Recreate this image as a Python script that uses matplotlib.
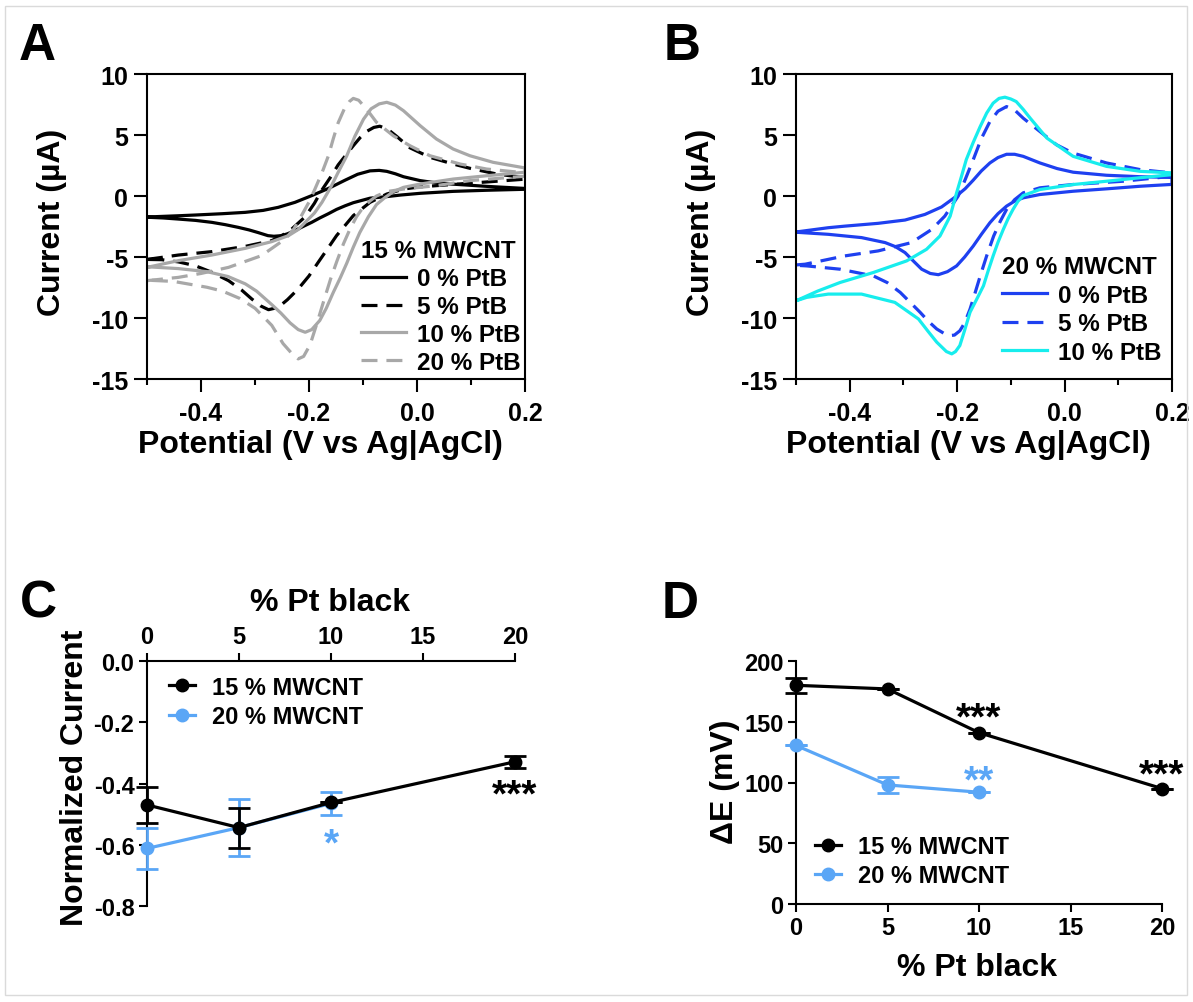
import matplotlib
matplotlib.use("Agg")
import matplotlib.pyplot as plt
from matplotlib.ticker import FormatStrFormatter

plt.rcParams['font.family'] = ['Liberation Sans', 'DejaVu Sans']
plt.rcParams['font.weight'] = 'bold'
plt.rcParams['axes.labelweight'] = 'bold'
plt.rcParams['axes.unicode_minus'] = False
plt.rcParams['axes.linewidth'] = 1.5

# ---- panel A: CVs, 15 % MWCNT (upper branch -0.5 -> 0.2, then back) ----
a0_E = [-0.500, -0.442, -0.411, -0.360, -0.318, -0.285, -0.257, -0.226, -0.195, -0.164,
        -0.133, -0.110, -0.087, -0.070, -0.056, -0.040, -0.025, 0.006, 0.035, 0.067,
        0.129, 0.200,
        0.200, 0.129, 0.067, 0.006, -0.030, -0.056, -0.087, -0.118, -0.133, -0.149,
        -0.164, -0.180, -0.195, -0.211, -0.226, -0.240, -0.251, -0.265, -0.276, -0.294,
        -0.311, -0.331, -0.355, -0.380, -0.410, -0.442, -0.470, -0.500]
a0_I = [-1.72, -1.62, -1.56, -1.45, -1.34, -1.18, -0.93, -0.52, 0.03, 0.62,
        1.30, 1.78, 2.06, 2.10, 2.02, 1.82, 1.58, 1.26, 1.08, 0.97,
        0.79, 0.62,
        0.55, 0.47, 0.38, 0.22, 0.08, -0.05, -0.18, -0.55, -0.80, -1.10,
        -1.45, -1.80, -2.16, -2.50, -2.84, -3.10, -3.25, -3.30, -3.25, -3.00,
        -2.78, -2.57, -2.35, -2.16, -2.00, -1.89, -1.80, -1.74]

a5_E = [-0.500, -0.442, -0.380, -0.318, -0.269, -0.238, -0.207, -0.190, -0.176, -0.160,
        -0.146, -0.130, -0.118, -0.105, -0.093, -0.080, -0.069, -0.055, -0.038, -0.013,
        0.024, 0.067, 0.098, 0.148, 0.200,
        0.200, 0.129, 0.067, 0.006, -0.025, -0.056, -0.087, -0.118, -0.149, -0.166,
        -0.183, -0.200, -0.220, -0.240, -0.257, -0.275, -0.290, -0.306, -0.325, -0.349,
        -0.380, -0.411, -0.442, -0.473, -0.500]
a5_I = [-5.20, -4.84, -4.56, -4.13, -3.66, -2.95, -1.70, -0.60, 0.50, 1.55,
        2.55, 3.45, 4.12, 4.80, 5.30, 5.62, 5.72, 5.50, 4.90, 3.95,
        3.17, 2.62, 2.27, 1.80, 1.50,
        1.38, 1.15, 0.95, 0.75, 0.57, 0.16, -0.52, -1.61, -3.25, -4.35,
        -5.44, -6.55, -7.62, -8.50, -9.13, -9.32, -9.00, -8.44, -7.70, -6.94,
        -6.25, -5.71, -5.40, -5.22, -5.20]

a10_E = [-0.500, -0.442, -0.380, -0.318, -0.269, -0.238, -0.220, -0.207, -0.190, -0.176,
         -0.160, -0.146, -0.130, -0.115, -0.099, -0.085, -0.070, -0.056, -0.040, -0.025,
         0.006, 0.036, 0.067, 0.098, 0.141, 0.200,
         0.200, 0.129, 0.067, 0.006, -0.025, -0.044, -0.060, -0.075, -0.090, -0.106,
         -0.118, -0.130, -0.142, -0.155, -0.168, -0.180, -0.195, -0.207, -0.220, -0.235,
         -0.252, -0.269, -0.297, -0.318, -0.350, -0.389, -0.442, -0.500]
a10_I = [-5.85, -5.30, -4.84, -4.29, -3.74, -3.25, -2.75, -2.16, -1.40, -0.52,
         0.70, 1.94, 3.30, 4.90, 6.30, 7.15, 7.55, 7.68, 7.45, 6.99,
         5.76, 4.67, 3.85, 3.30, 2.76, 2.30,
         1.95, 1.66, 1.39, 0.98, 0.71, 0.35, -0.15, -0.70, -1.70, -3.00,
         -4.20, -5.50, -6.70, -7.90, -9.20, -10.20, -10.95, -11.17, -10.95, -10.40,
         -9.60, -8.90, -7.80, -7.20, -6.60, -6.20, -5.95, -5.80]

a20_E = [-0.500, -0.442, -0.400, -0.349, -0.288, -0.244, -0.228, -0.214, -0.200, -0.189,
         -0.176, -0.164, -0.155, -0.146, -0.135, -0.125, -0.118, -0.108, -0.099, -0.087,
         -0.075, -0.044, -0.013, 0.024, 0.080, 0.129, 0.200,
         0.200, 0.098, 0.036, -0.025, -0.056, -0.075, -0.087, -0.100, -0.112, -0.124,
         -0.136, -0.148, -0.160, -0.172, -0.185, -0.198, -0.210, -0.220, -0.232, -0.248,
         -0.269, -0.300, -0.328, -0.360, -0.389, -0.451, -0.500]
a20_I = [-6.94, -6.67, -6.35, -5.85, -4.89, -3.52, -2.70, -1.61, -0.50, 0.57,
         1.90, 3.30, 4.70, 6.00, 7.10, 7.75, 8.00, 7.85, 7.40, 6.75,
         6.04, 4.94, 4.12, 3.30, 2.62, 2.21, 1.90,
         1.62, 1.26, 0.85, 0.57, 0.36, 0.00, -0.40, -0.95, -1.70, -2.70,
         -3.90, -5.30, -6.80, -8.50, -10.40, -12.20, -13.15, -13.35, -12.90, -12.10,
         -10.60, -9.20, -8.40, -7.80, -7.48, -7.00, -6.90]

# ---- panel B: CVs, 20 % MWCNT ----
b0_E = [-0.500, -0.440, -0.409, -0.347, -0.297, -0.260, -0.229, -0.204, -0.185, -0.170,
        -0.155, -0.139, -0.124, -0.108, -0.093, -0.077, -0.046, -0.014, 0.016, 0.078,
        0.141, 0.200,
        0.200, 0.141, 0.079, 0.016, -0.046, -0.077, -0.093, -0.108, -0.124, -0.139,
        -0.155, -0.170, -0.186, -0.201, -0.218, -0.235, -0.250, -0.266, -0.281, -0.297,
        -0.315, -0.334, -0.378, -0.440, -0.500]
b0_I = [-2.95, -2.60, -2.47, -2.24, -1.97, -1.51, -0.90, -0.10, 0.60, 1.30,
        2.05, 2.71, 3.15, 3.42, 3.42, 3.25, 2.71, 2.25, 1.95, 1.70,
        1.58, 1.52,
        0.95, 0.80, 0.59, 0.39, 0.12, -0.15, -0.42, -0.83, -1.45, -2.19,
        -3.15, -4.10, -5.00, -5.73, -6.20, -6.45, -6.35, -6.00, -5.35, -4.64,
        -4.15, -3.82, -3.41, -3.14, -2.97]

b5_E = [-0.500, -0.483, -0.409, -0.347, -0.285, -0.247, -0.223, -0.198, -0.185, -0.170,
        -0.155, -0.139, -0.124, -0.108, -0.093, -0.077, -0.046, -0.015, 0.015, 0.078,
        0.141, 0.200,
        0.200, 0.109, 0.015, -0.046, -0.077, -0.093, -0.108, -0.120, -0.132, -0.145,
        -0.157, -0.167, -0.176, -0.186, -0.195, -0.205, -0.213, -0.225, -0.238, -0.254,
        -0.269, -0.306, -0.330, -0.356, -0.418, -0.480, -0.500]
b5_I = [-5.65, -5.59, -4.91, -4.50, -3.82, -2.73, -1.65, 0.00, 1.35, 2.98,
        4.70, 6.10, 6.95, 7.33, 7.05, 6.38, 5.29, 4.20, 3.53, 2.71,
        2.16, 1.89,
        1.62, 1.21, 0.94, 0.67, 0.26, -0.30, -1.10, -2.10, -3.28, -4.90,
        -6.55, -8.00, -9.27, -10.40, -11.05, -11.40, -11.44, -11.25, -10.90, -10.25,
        -9.53, -7.90, -7.10, -6.55, -6.00, -5.73, -5.68]

b10_E = [-0.500, -0.460, -0.418, -0.356, -0.294, -0.257, -0.232, -0.213, -0.201, -0.192,
         -0.183, -0.170, -0.157, -0.145, -0.133, -0.122, -0.111, -0.100, -0.090, -0.077,
         -0.064, -0.033, 0.016, 0.078, 0.141, 0.200,
         0.200, 0.141, 0.078, 0.016, -0.046, -0.077, -0.087, -0.096, -0.105, -0.114,
         -0.124, -0.133, -0.142, -0.151, -0.160, -0.176, -0.186, -0.195, -0.203, -0.210,
         -0.220, -0.238, -0.254, -0.272, -0.316, -0.378, -0.440, -0.480, -0.500]
b10_I = [-8.59, -7.80, -7.09, -6.27, -5.32, -4.37, -3.28, -1.65, 0.26, 1.60,
         2.98, 4.40, 5.70, 6.80, 7.61, 8.00, 8.10, 7.95, 7.74, 7.10,
         6.38, 4.75, 3.25, 2.43, 2.02, 1.90,
         1.75, 1.50, 1.21, 0.94, 0.53, 0.04, -0.45, -1.10, -1.85, -2.73,
         -3.80, -4.91, -6.10, -7.36, -8.15, -9.53, -11.00, -12.26, -12.75, -12.94,
         -12.75, -11.98, -11.10, -10.08, -8.72, -8.04, -8.04, -8.31, -8.59]

# ---- panels C and D ----
ptb_15 = [0, 5, 10, 20]
ptb_20 = [0, 5, 10]
norm_15 = [-0.470, -0.544, -0.462, -0.329]
norm_15_err = [0.060, 0.065, 0.0, 0.020]
norm_20 = [-0.612, -0.544, -0.465]
norm_20_err = [0.068, 0.094, 0.037]
dE_15 = [180, 177, 141, 95]
dE_15_err = [6, 0, 0, 0]
dE_20 = [130.5, 98, 92]
dE_20_err = [0, 6.5, 0]

GRAY = '#A8A8A8'
BLUE = '#1E40F0'
CYAN = '#17EDED'
LBLUE = '#5AA6F6'
DASH = (0, (5, 2.8))
LW = 2.3

W, H = 1193, 1003
fig = plt.figure(figsize=(W / 100, H / 100), dpi=100)


def cv_axes(rect):
    ax = fig.add_axes(rect)
    ax.set_xlim(-0.5, 0.2)
    ax.set_ylim(-15, 10)
    ax.set_xticks([-0.4, -0.2, 0.0, 0.2])
    ax.set_xticks([-0.5, -0.3, -0.1, 0.1], minor=True)
    ax.set_yticks([-15, -10, -5, 0, 5, 10])
    ax.xaxis.set_major_formatter(FormatStrFormatter('%.1f'))
    ax.yaxis.set_major_formatter(FormatStrFormatter('%d'))
    ax.tick_params(which='major', length=9.5, width=1.5, labelsize=18, pad=4)
    ax.tick_params(which='minor', length=4.5, width=1.5)
    ax.tick_params(axis='x', which='major', pad=6)
    ax.set_xlabel('Potential (V vs Ag|AgCl)', fontsize=23, va='center')
    ax.set_ylabel('Current (\u00b5A)', fontsize=23, va='center')
    ax.xaxis.set_label_coords(0.458, -0.213)
    ax.yaxis.set_label_coords(-0.252, 0.518)
    return ax


# A
axA = cv_axes([147 / W, 1 - 380 / H, 378 / W, 305 / H])
axA.plot(a0_E, a0_I, color='black', lw=LW, label='0 % PtB')
axA.plot(a5_E, a5_I, color='black', lw=LW, ls=DASH, label='5 % PtB')
axA.plot(a10_E, a10_I, color=GRAY, lw=LW, label='10 % PtB')
axA.plot(a20_E, a20_I, color=GRAY, lw=LW, ls=DASH, label='20 % PtB')
legA = axA.legend(title='15 % MWCNT', loc='upper left', bbox_to_anchor=(0.566, 0.458),
                  frameon=False, fontsize=17.5, title_fontsize=17.5, alignment='left',
                  handlelength=1.85, handletextpad=0.45, labelspacing=0.2,
                  borderpad=0, borderaxespad=0)
legA.get_title().set_fontweight('bold')

# B
axB = cv_axes([796 / W, 1 - 380 / H, 376 / W, 305 / H])
axB.plot(b0_E, b0_I, color=BLUE, lw=LW, label='0 % PtB')
axB.plot(b5_E, b5_I, color=BLUE, lw=LW, ls=DASH, label='5 % PtB')
axB.plot(b10_E, b10_I, color=CYAN, lw=LW, label='10 % PtB')
legB = axB.legend(title='20 % MWCNT', loc='upper left', bbox_to_anchor=(0.548, 0.405),
                  frameon=False, fontsize=17.5, title_fontsize=17.5, alignment='left',
                  handlelength=1.85, handletextpad=0.45, labelspacing=0.22,
                  borderpad=0, borderaxespad=0)
legB.get_title().set_fontweight('bold')


def dot_series(ax, x, y, err, color, label, z):
    eb = ax.errorbar(x, y, yerr=err, fmt='none', ecolor=color, elinewidth=2,
                     capsize=8, capthick=2, zorder=z)
    for art in eb.lines[1] + eb.lines[2]:
        art.set_clip_on(False)
    ax.plot(x, y, color=color, lw=LW, marker='o', ms=9, label=label,
            zorder=z + 0.5, clip_on=False)


# C
axC = fig.add_axes([147 / W, 1 - 907 / H, 368 / W, 245 / H])
axC.set_xlim(0, 20)
axC.set_ylim(-0.8, 0.0)
axC.spines['bottom'].set_visible(False)
axC.spines['right'].set_visible(False)
axC.xaxis.tick_top()
axC.xaxis.set_label_position('top')
axC.set_xticks([0, 5, 10, 15, 20])
axC.set_yticks([0.0, -0.2, -0.4, -0.6, -0.8])
axC.yaxis.set_major_formatter(FormatStrFormatter('%.1f'))
axC.tick_params(length=6, width=1.5, labelsize=17, pad=3)
dot_series(axC, ptb_20, norm_20, norm_20_err, LBLUE, '20 % MWCNT', 3)
dot_series(axC, ptb_15, norm_15, norm_15_err, 'black', '15 % MWCNT', 4)
axC.text(20, -0.440, '***', ha='center', va='center', fontsize=28, color='black')
axC.text(10, -0.600, '*', ha='center', va='center', fontsize=28, color=LBLUE)
h, l = axC.get_legend_handles_labels()
axC.legend(h[::-1], l[::-1], loc='upper left', bbox_to_anchor=(0.06, 0.94),
           frameon=False, fontsize=17, handlelength=1.1, handletextpad=0.7,
           labelspacing=0.26, borderpad=0, borderaxespad=0, numpoints=1)
axC.set_xlabel('% Pt black', fontsize=23, va='center')
axC.set_ylabel('Normalized Current', fontsize=23, va='center')
axC.xaxis.set_label_coords(0.497, 1.241)
axC.yaxis.set_label_coords(-0.196, 0.527)

# D
axD = fig.add_axes([796 / W, 1 - 905 / H, 366 / W, 243 / H])
axD.set_xlim(0, 20)
axD.set_ylim(0, 200)
axD.spines['top'].set_visible(False)
axD.spines['right'].set_visible(False)
axD.set_xticks([0, 5, 10, 15, 20])
axD.set_yticks([0, 50, 100, 150, 200])
axD.tick_params(length=6, width=1.5, labelsize=17, pad=3)
dot_series(axD, ptb_15, dE_15, dE_15_err, 'black', '15 % MWCNT', 4)
dot_series(axD, ptb_20, dE_20, dE_20_err, LBLUE, '20 % MWCNT', 3)
axD.text(10, 153.0, '***', ha='center', va='center', fontsize=28, color='black')
axD.text(20, 105.5, '***', ha='center', va='center', fontsize=28, color='black')
axD.text(10, 101.0, '**', ha='center', va='center', fontsize=28, color=LBLUE)
axD.legend(loc='lower left', bbox_to_anchor=(0.052, 0.07), frameon=False, fontsize=17,
           handlelength=1.1, handletextpad=0.7, labelspacing=0.26, borderpad=0,
           borderaxespad=0, numpoints=1)
axD.set_xlabel('% Pt black', fontsize=23, va='center')
axD.set_ylabel('\u0394E (mV)', fontsize=23, va='center')
axD.xaxis.set_label_coords(0.495, -0.259)
axD.yaxis.set_label_coords(-0.194, 0.506)

# panel letters
for txt, px, py in [('A', 37, 46), ('B', 682, 46), ('C', 38, 604), ('D', 680, 604)]:
    fig.text(px / W, 1 - py / H, txt, fontsize=37, ha='center', va='center')

# thin frame round the whole figure
fig.patches.append(plt.Rectangle((5 / W, 7 / H), 1 - 11 / W, 1 - 14 / H,
                                 transform=fig.transFigure, fill=False,
                                 ec='#DADADA', lw=1))

fig.savefig('out.png', dpi=100)
